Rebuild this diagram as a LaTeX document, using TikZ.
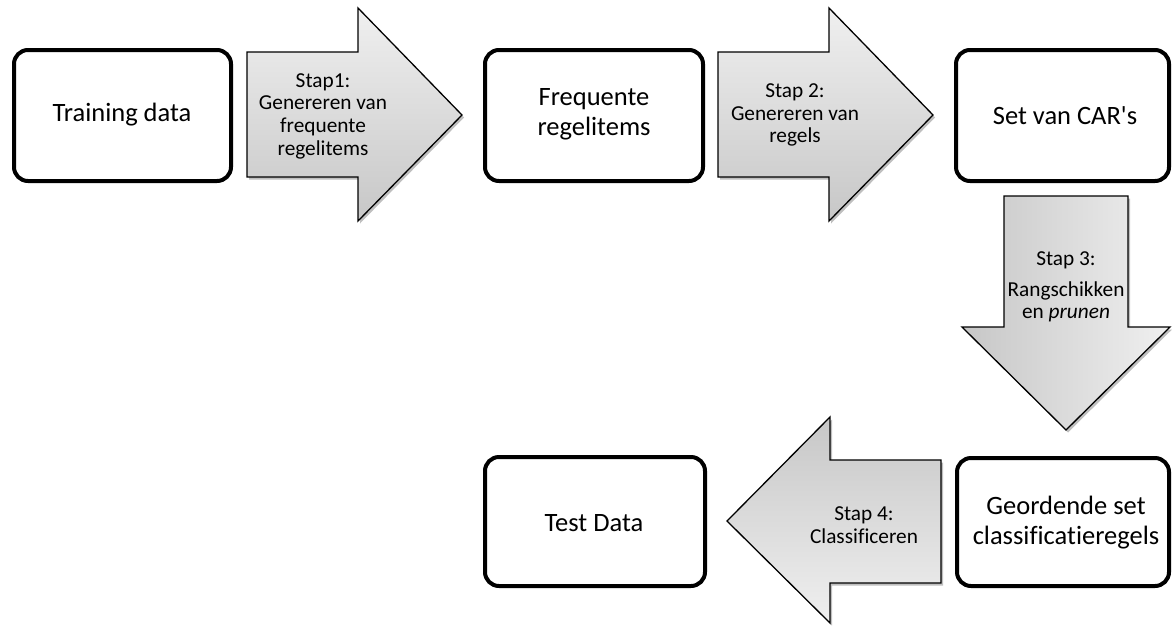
\documentclass[tikz,border=0pt]{standalone}
\usepackage{fontspec}
\setmainfont[Ligatures={TeXOff,NoCommon}]{Carlito}
\usetikzlibrary{shadows}
\begin{document}
\begin{tikzpicture}[x=1pt,y=-1pt,
  stagebox/.style={draw=black,line width=4pt,rounded corners=14pt,fill=white},
  boxtext/.style={align=center,font=\fontsize{26.5}{30}\selectfont,inner sep=0pt},
  steptext/.style={align=center,font=\fontsize{21.3}{22.7}\selectfont,inner sep=0pt},
  blockarrow/.style={draw=black,line width=1.3pt,line join=miter,
    drop shadow={shadow xshift=2pt,shadow yshift=-2.5pt,opacity=0.25,fill=black}},
  shadeA/.style={top color=black!6,bottom color=black!22},
  shadeB/.style={left color=black!22,right color=black!6},
  shadeC/.style={top color=black!22,bottom color=black!6}]
\useasboundingbox (0,0) rectangle (1172,625);

% stage boxes
\draw[stagebox] (14,50) rectangle (231,181);
\draw[stagebox] (485,50) rectangle (703,181);
\draw[stagebox] (956,50) rectangle (1169,181);
\draw[stagebox] (957,458) rectangle (1169,586);
\draw[stagebox] (485,457) rectangle (705,586);

\node[boxtext] (train) at (122,115) {Training data};
\node[boxtext] (freq) at (594,114) {Frequente\\regelitems};
\node[boxtext] (cars) at (1065,116) {Set van CAR's};
\node[boxtext] (ordered) at (1066,523) {Geordende set\\classificatieregels};
\node[boxtext] (test) at (594,523) {Test Data};

% block arrows between the stages
\draw[blockarrow,shadeA] (247,52) -- (358,52) -- (358,8) -- (462,115)
  -- (358,221) -- (358,177) -- (247,177) -- cycle;
\draw[blockarrow,shadeA] (718,52) -- (829,52) -- (829,8) -- (933,115)
  -- (829,221) -- (829,177) -- (718,177) -- cycle;
\draw[blockarrow,shadeB] (1004,196) -- (1128,196) -- (1128,327) -- (1170,327)
  -- (1066,430) -- (962,327) -- (1004,327) -- cycle;
\draw[blockarrow,shadeC] (941,460) -- (830,460) -- (830,417) -- (727,521)
  -- (830,623) -- (830,583) -- (941,583) -- cycle;

\node[steptext] (s1) at (323,116) {Stap1:\\Genereren van\\frequente\\regelitems};
\node[steptext] (s2) at (795,115) {Stap 2:\\Genereren van\\regels};
\node[steptext] (s3) at (1066,287) {Stap 3:\\[8pt]Rangschikken\\en \textit{prunen}};
\node[steptext] (s4) at (864,525) {Stap 4:\\Classificeren};
\end{tikzpicture}
\end{document}
